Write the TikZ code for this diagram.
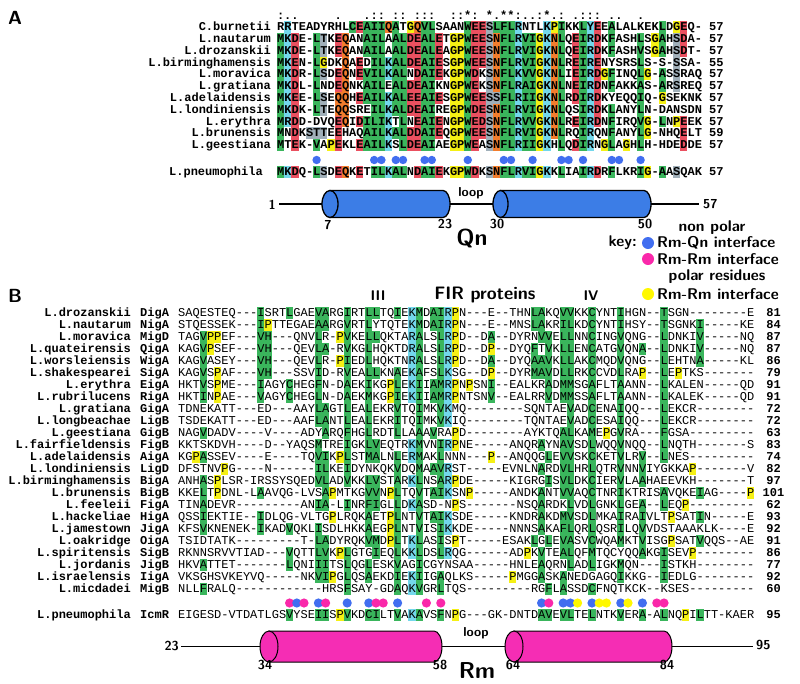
\documentclass[tikz,border=0pt]{standalone}
\usepackage{fontspec}
\setmainfont{Liberation Sans}
\setmonofont{Liberation Mono}
\definecolor{colg}{RGB}{58,181,92}
\definecolor{colc}{RGB}{115,215,235}
\definecolor{colr}{RGB}{234,80,96}
\definecolor{colo}{RGB}{242,125,45}
\definecolor{coly}{RGB}{245,240,20}
\definecolor{cols}{RGB}{160,175,185}
\definecolor{dotblue}{RGB}{65,110,240}
\definecolor{dotpink}{RGB}{250,40,170}
\definecolor{dotyellow}{RGB}{255,248,0}
\definecolor{helixblue}{RGB}{60,125,230}
\definecolor{helixpink}{RGB}{245,45,180}
\makeatletter
\newcount\rc
\newif\ifovr
\def\colin#1{\edef\@tmpa{\noexpand\in@{,\the\rc,}{,#1,}}\@tmpa}
\def\docell#1{%
  \def\cellcol{}\ovrfalse
  \@for\@L:=g,c,r,o,y,s,n\do{%
    \edef\@tmpa{\noexpand\in@{,\the\rc\@L,}{,\ovlist,}}\@tmpa
    \ifin@\ovrtrue\if\@L n\def\cellcol{}\else\edef\cellcol{col\@L}\fi\fi}%
  \ifovr\else
    \in@{#1}{AVILMFWC}\ifin@\colin\Gset\ifin@\def\cellcol{colg}\fi\fi
    \in@{#1}{DE}\ifin@\colin\Rset\ifin@\def\cellcol{colr}\fi\fi
    \in@{#1}{KR}\ifin@\colin\Cset\ifin@\def\cellcol{colc}\fi\fi
    \in@{#1}{NQ}\ifin@\colin\Oset\ifin@\def\cellcol{colo}\fi\fi
    \in@{#1}{ST}\ifin@\colin\Sset\ifin@\def\cellcol{cols}\fi\fi
    \edef\@tmpa{\noexpand\in@{#1}{\Yclass}}\@tmpa\ifin@\def\cellcol{coly}\fi
  \fi
  \ifx\cellcol\@empty\else
    \fill[\cellcol] ({\xo+\the\rc*7.2},{\yc-\hh}) rectangle ++(7.2,{2*\hh});
  \fi}
\def\cellloop#1{\ifx#1\@nil\else\docell#1\advance\rc\@ne\expandafter\cellloop\fi}
\newcommand\seqcells[4]{\def\xo{#1}\def\yc{#2}\def\ovlist{#4}\rc=0 \cellloop#3\@nil}
\makeatother
\newcommand\arow[6]{% name y seq num ov nameedge
  \seqcells{277}{#2}{#3}{#5}
  \node[seqA] (s#1) at (277,#2+3.6) {#3};
  \node[nameA] (n#1) at (#6,#2+3.6) {#1};
  \node[numA] (q#1) at (709,#2+3.6) {#4};}
\newcommand\brow[6]{% name prot y seq num ov
  \seqcells{178}{#3}{#4}{#6}
  \node[seqB] (s#2#1) at (178,#3+3.6) {#4};
  \node[nameB] (n#2#1) at (131,#3+3.6) {L.#1};
  \node[protB] (p#2#1) at (140,#3+3.6) {#2};
  \node[numB] (q#2#1) at (773.5,#3+3.6) {#5};}
\begin{document}
\begin{tikzpicture}[x=1pt,y=-1pt,
  seqA/.style={font=\ttfamily\bfseries\fontsize{12}{12}\selectfont,inner sep=0pt,anchor=base west},
  seqB/.style={font=\ttfamily\fontsize{12}{12}\selectfont,inner sep=0pt,anchor=base west},
  nameA/.style={font=\ttfamily\bfseries\fontsize{12}{12}\selectfont,inner sep=0pt,anchor=base east},
  nameB/.style={nameA},
  protB/.style={font=\ttfamily\bfseries\fontsize{12}{12}\selectfont,inner sep=0pt,anchor=base west},
  numA/.style={font=\ttfamily\bfseries\fontsize{12}{12}\selectfont,inner sep=0pt,anchor=base west},
  numB/.style={font=\ttfamily\bfseries\fontsize{12}{12}\selectfont,inner sep=0pt,anchor=base},
  cons/.style={font=\ttfamily\bfseries\fontsize{12}{12}\selectfont,inner sep=0pt,anchor=base},
  panel/.style={font=\sffamily\bfseries\fontsize{19}{19}\selectfont,inner sep=0pt},
  hlab/.style={font=\sffamily\bfseries\fontsize{13}{13}\selectfont,inner sep=0pt},
  keytxt/.style={font=\sffamily\bfseries\fontsize{15.5}{16}\selectfont,inner sep=0pt},
  big/.style={font=\sffamily\bfseries\fontsize{23}{23}\selectfont,inner sep=0pt},
  roman/.style={font=\sffamily\bfseries\fontsize{14}{14}\selectfont,inner sep=0pt},
  helixline/.style={line width=1.4pt},
  cylA/.style={fill=helixblue,draw=black,line width=1.3pt},
  cylB/.style={fill=helixpink,draw=black,line width=1pt}]
\useasboundingbox (0,0) rectangle (800,683);
\fill[white] (0,0) rectangle (800,683);
% ================= Panel A =================
\node[panel] (labA) at (15,17.5) {A};
\def\hh{5.9}
\def\Gset{0,5,12,13,14,16,17,20,21,26,31,32,34,35,39,42,46,50,53}
\def\Rset{2,8,11,18,19,22,27,28,41,44,56}
\def\Cset{1,15,33,37,43}
\def\Oset{8,9,15,19,30,38}
\def\Sset{4,5,6,29,30,55}
\def\Yclass{GP}
\foreach \c/\m in {0/:,1/.,2/.,8/.,12/.,13/:,14/:,16/:,17/:,19/:,20/:,21/:,24/:,25/:,26/*,27/:,29/*,30/.,31/*,32/*,33/:,34/.,35/.,36/:,37/*,38/.,39/:,41/.,42/:,43/:,44/:,46/.,47/.,50/.}
  \node[cons] at ({277+7.2*(\c+0.5)},19.5) {\m};
\arow{C.burnetii}{27}{RRTEADYRHLCEAIIQATGQVLSAANWEESLFLRNTLKPIKKLYEEALALKEKLDGEQ-}{57}{10g,30g,43c}{271}
\arow{L.nautarum}{38.8}{MKDE-LTKEQANAILAALDEALETGPWEESNFLRVIGKNLQEIRDKFASHLSGAHSDA-}{57}{}{271}
\arow{L.drozanskii}{50.6}{MKDE-LTKEQANAILAALDEALEAGPWEESNFLRVIGKNLQEIRDKFASHVSGAHSDT-}{57}{}{271}
\arow{L.birminghamensis}{62.4}{MKEN-LGDKQAEDILKALDEAIESGPWEESNFLRVIGKNLREIRENYSRSLS-S-SSA-}{55}{}{271}
\arow{L.moravica}{74.2}{MKDR-LSDEQNEVILKALNDAIEKGPWDKSNFLKVVGKNLIEIRDGFINQLG-ASSRAQ}{57}{}{271}
\arow{L.gratiana}{86}{MKDL-LNDEQNKAILEALDEAIKNGPWEKSNFLRAIGKNLNEIRDNFAKKAS-ARSREQ}{57}{}{271}
\arow{L.adelaidensis}{97.8}{MKEE-LSEQQHEAILKALEEAIESGPWEESSFLRIIGKNLRDIRDKYEQQIQ-GSEKNK}{57}{}{271}
\arow{L.londiniensis}{109.6}{MKDK-LTEQQSREILKALDEAIREGPWDESNFLRVIGKNLQSIRDKLANYLN-DANSDN}{57}{}{271}
\arow{L.erythra}{121.4}{MRDD-DVQEQIDILIKTLNEAIENGPWEDSNFLRVVGKNLREIRDNFIRQVG-LNPEEK}{57}{}{271}
\arow{L.brunensis}{133.2}{MNDKSTTEEHAQAILKALDDAIEQGPWEESNFLRVIGKNLRQIRQNFANYLG-NHQELT}{59}{}{271}
\arow{L.geestiana}{145}{MTEK-VAPEKLEAILKSLDEAIAEGPWEASNFLRIIGKHLQDIRNGLAGHLH-HDEDDE}{57}{}{271}
\foreach \c in {5,13,14,16,17,20,21,26,31,32,35,39,40,42,46,47,50}
  \fill[dotblue] ({277+7.2*(\c+0.5)},160) circle (4.2);
\arow{L.pneumophila}{172}{MKDQ-LSDEQKETILKALNDAIEKGPWDKSNFLRVIGKKLIAIRDRFLKRIG-AASQAK}{57}{}{263}
% helix Qn
\coordinate (a1) at (279,204);
\coordinate (a7) at (330,204);
\coordinate (a23) at (450,204);
\coordinate (a30) at (500.5,204);
\coordinate (a50) at (651,204);
\coordinate (a57) at (699,204);
\draw[helixline] (a1) -- (a7);
\draw[helixline] (a23) -- (a30);
\draw[helixline] (a50) -- (a57);
\path[cylA] (330,190.5) -- (443,190.5) arc (-90:90:7 and 13.5) -- (330,217.5) -- cycle;
\path[cylA] (330,204) ellipse (8 and 13.5);
\path[cylA] (500.5,190.5) -- (644,190.5) arc (-90:90:7 and 13.5) -- (500.5,217.5) -- cycle;
\path[cylA] (500.5,204) ellipse (7.5 and 13.5);
\node[hlab,anchor=east] (t1) at (276,205) {1};
\node[hlab] (t7) at (328,225) {7};
\node[hlab] (t23) at (445,224) {23};
\node[hlab] (t30) at (497,224) {30};
\node[hlab] (t50) at (645,224) {50};
\node[hlab,anchor=west] (t57) at (703,204) {57};
\node[hlab] (loopA) at (471,193) {loop};
\node[big] (Qn) at (472,238) {Qn};
% key
\node[keytxt] (knp) at (712,228) {non polar};
\node[keytxt,anchor=east] (kk) at (637,243) {key:};
\fill[dotblue] (648,243) circle (6);
\node[keytxt,anchor=west] (k1) at (657,243) {Rm-Qn interface};
\fill[dotpink] (648,259) circle (6);
\node[keytxt,anchor=west] (k2) at (657,259) {Rm-Rm interface};
\node[keytxt] (kpr) at (717,277) {polar residues};
\fill[dotyellow] (648,294) circle (6);
\node[keytxt,anchor=west] (k3) at (657,294) {Rm-Rm interface};
% ================= Panel B =================
\node[panel] (labB) at (15,296) {B};
\node[roman] (r3) at (378,296) {III};
\node[font=\sffamily\bfseries\fontsize{18}{18}\selectfont,inner sep=0pt] (fir) at (485,295) {FIR proteins};
\node[roman] (r4) at (591,296) {IV};
\def\hh{6}
\def\Gset{3,11,15,19,20,23,26,27,30,33,35,36,43,49,50,51,53,54,57,61,64,67,72}
\def\Rset{}
\def\Cset{32,37}
\def\Oset{}
\def\Sset{}
\def\Yclass{P}
\brow{drozanskii}{DigA}{313}{SAQESTEQ---ISRTLGAEVARGIRTLLTQIEKMDAIRPN---E--THNLAKQVVKKCYNTIHGN--TSGN--------E}{81}{67g}
\brow{nautarum}{NigA}{325}{STQESSEK---IPTTEGAEAARGVRTLYTQTEKMDAIRPN---E--MNSLAKRILKDCYNTIHSY--TSGNKI-----KE}{84}{67g}
\brow{moravica}{MigD}{337}{TAGVPPEF---VH---QNVLR-PVKELLQKTARALSLRPD--DA--DYRNVVELLNNCINGVQNG--LDNKIV-----NQ}{87}{12g}
\brow{quateirensis}{QigA}{349}{KAGVPSEF---VH---QEVLA-RVKGLHQKTDRALSLRPD--DP--DYQFTVKLLENCATGVQNA--LDNKIV-----NQ}{87}{12g}
\brow{worsleiensis}{WigA}{361}{KAGVASEY---VH---QEVLR-PIEDLHQKTNRALSLRPD--DA--DYQAAVKLLAKCMQDVQNG--LEHTNA-----KL}{86}{12g}
\brow{shakespearei}{SigA}{373}{KAGVSPAF---VH---SSVID-RVEALLKNAEKAFSLKSG--DP--DYRMAVDLLRKCCVDLRAP--LEPTKS-------}{79}{12g}
\brow{erythra}{EigA}{385}{HKTVSPME---IAGYCHEGFN-DAEKIKGPLEKIIAMRPNPSNI--EALKRADMMSGAFLTAANN--LKALEN-----QD}{91}{}
\brow{rubrilucens}{RigA}{397}{HKTINPAE---VAGYCHEGLN-DAEKMKGPIEKIIAMRPNTSNV--EALRRVDMMSSAFLTAANN--LKALEK-----QD}{91}{}
\brow{gratiana}{GigA}{409}{TDNEKATT---ED---AAYLAGTLEALEKRVTQIMKVKMQ--------SQNTAEVADCENAIQQ---LEKCR--------}{72}{}
\brow{longbeachae}{LigB}{421}{TSDEKATT---ED---AAFLANTLEALEKRITQIMKVKIQ--------TQNTAEVADCESAIQQ---LEKCR--------}{72}{}
\brow{geestiana}{GigB}{433}{NAGVDADV----V----ADYARQFHGLRDTLLAAAVRAPD--------AYKTQALKAMEPGVRA---FGSA---------}{63}{}
\brow{fairfieldensis}{FigB}{445}{KKTSKDVH----D--YAQSMTREIGKLVEQTRKMVNIRPNE-----ANQRAYNAVSDLWQQVNQQ--LNQTH-------S}{83}{}
\brow{adelaidensis}{AigA}{457}{KGPASSEV----E----TQVIKPLSTMALNLERMAKLNNN---P--ANQQGLEVVSKCKETVLRV--LNES---------}{74}{}
\brow{londiniensis}{LigD}{469}{DFSTNVPG----N------ILKEIDYNKQKVDQMAAVRST-----EVNLNARDVLHRLQTRVNNVIYGKKAP-------V}{82}{}
\brow{birminghamensis}{BigA}{481}{ANHASPLSR-IRSSYSQEDVLADVKKLVSTARKLNSARPDE-----KIGRGISVLDKCIERVLAAHAEEVKH-------T}{97}{}
\brow{brunensis}{BigB}{493}{KKELTPDNL-LAAVQG-LVSAPMTKGVVNPLTQVTAIKSNP-----ANDKANTVVAQCTNRIKTRISAVQKEIAG----P}{101}{}
\brow{feeleii}{FigA}{505}{TINADEVR---------ANIA-LINRFIGLLDKASD-NPS-------NSQARDKLVDLGNKLGEA--LEQP---------}{62}{}
\brow{hackeliae}{HigA}{517}{QSSIEKTIE--IDLQG-VLTGPLRQKAETPLNTVTAIKSDE-----KNDRAKDMVSDLMKAIRAIVLTPSATIN-----E}{93}{}
\brow{jamestown}{JigA}{529}{KFSVKNENEK-IKADVQKLISDLHKKAEGPLNTVISIKKDE-----NNNSAKAFLQRLQSRILQVVDSTAAAKLK----E}{92}{}
\brow{oakridge}{OigA}{541}{TSIDTATK---------T-LADYRQKVMDPLTKLASISPT-----ESAKLGLEVASVCWQAMKTVISGPSATVQQS--AE}{91}{}
\brow{spiritensis}{SigB}{553}{RKNNSRVVTIAD---VQTTLVKPLGTGIEQLKKLDSLRQG------ADPKVTEALQFMTQCYQQAKGISEVP--------}{86}{}
\brow{jordanis}{JigB}{565}{HKVATTET-------LQNIIITSLQGLESKVAGICGYNSAA-----HNLEAQRNLADLIGKMQN---ISTKH--------}{77}{}
\brow{israelensis}{IigA}{577}{VKSGHSVKEYVQ-----NKVIPGLQSAEKDIEKIIGAQLKS-----PMGGASKANEDGAGQIKKG--IEDLG--------}{92}{}
\brow{micdadei}{MigB}{589}{NLLFRALQ------------HRSFSAY-GDAQKVGRLTQS---------RGFLASSDCFNQTKCK--KSES---------}{60}{}
\foreach \c/\k in {15/dotpink,16/dotblue,17/dotpink,19/dotblue,20/dotpink,23/dotblue,26/dotblue,27/dotpink,28/dotpink,30/dotblue,34/dotpink,36/dotpink,50/dotblue,51/dotpink,53/dotblue,54/dotblue,55/dotyellow,57/dotblue,58/dotyellow,59/dotyellow,61/dotblue,62/dotyellow,64/dotblue,66/dotpink,67/dotpink}
  \fill[\k] ({178+7.2*(\c+0.5)},603) circle (4.6);
\brow{pneumophila}{IcmR}{615}{EIGESD-VTDATLGSVYSEIISPVKDCILTVAKAVSFNPG---GK-DNTDAVEVLTELNTKVERA-ALNQPILTT-KAER}{95}{}
% helix Rm
\coordinate (b23) at (181,646);
\coordinate (b34) at (269,646);
\coordinate (b58) at (442,646);
\coordinate (b64) at (514,646);
\coordinate (b84) at (672,646);
\coordinate (b95) at (753,646);
\draw[line width=1pt] (b23) -- (b34);
\draw[line width=1pt] (b58) -- (b64);
\draw[line width=1pt] (b84) -- (b95);
\path[cylB] (269,631) -- (434,631) arc (-90:90:8 and 15.5) -- (269,662) -- cycle;
\path[cylB] (269,646.5) ellipse (9 and 15.5);
\path[cylB] (514,631) -- (664,631) arc (-90:90:8 and 15.5) -- (514,662) -- cycle;
\path[cylB] (514,646.5) ellipse (9 and 15.5);
\node[hlab,anchor=east] (u23) at (179,646) {23};
\node[hlab] (u34) at (265,665) {34};
\node[hlab] (u58) at (440,665) {58};
\node[hlab] (u64) at (513,665) {64};
\node[hlab] (u84) at (667,665) {84};
\node[hlab,anchor=west] (u95) at (756,645) {95};
\node[hlab] (loopB) at (476,633) {loop};
\node[big] (Rm) at (477,671) {Rm};
\end{tikzpicture}
\end{document}
